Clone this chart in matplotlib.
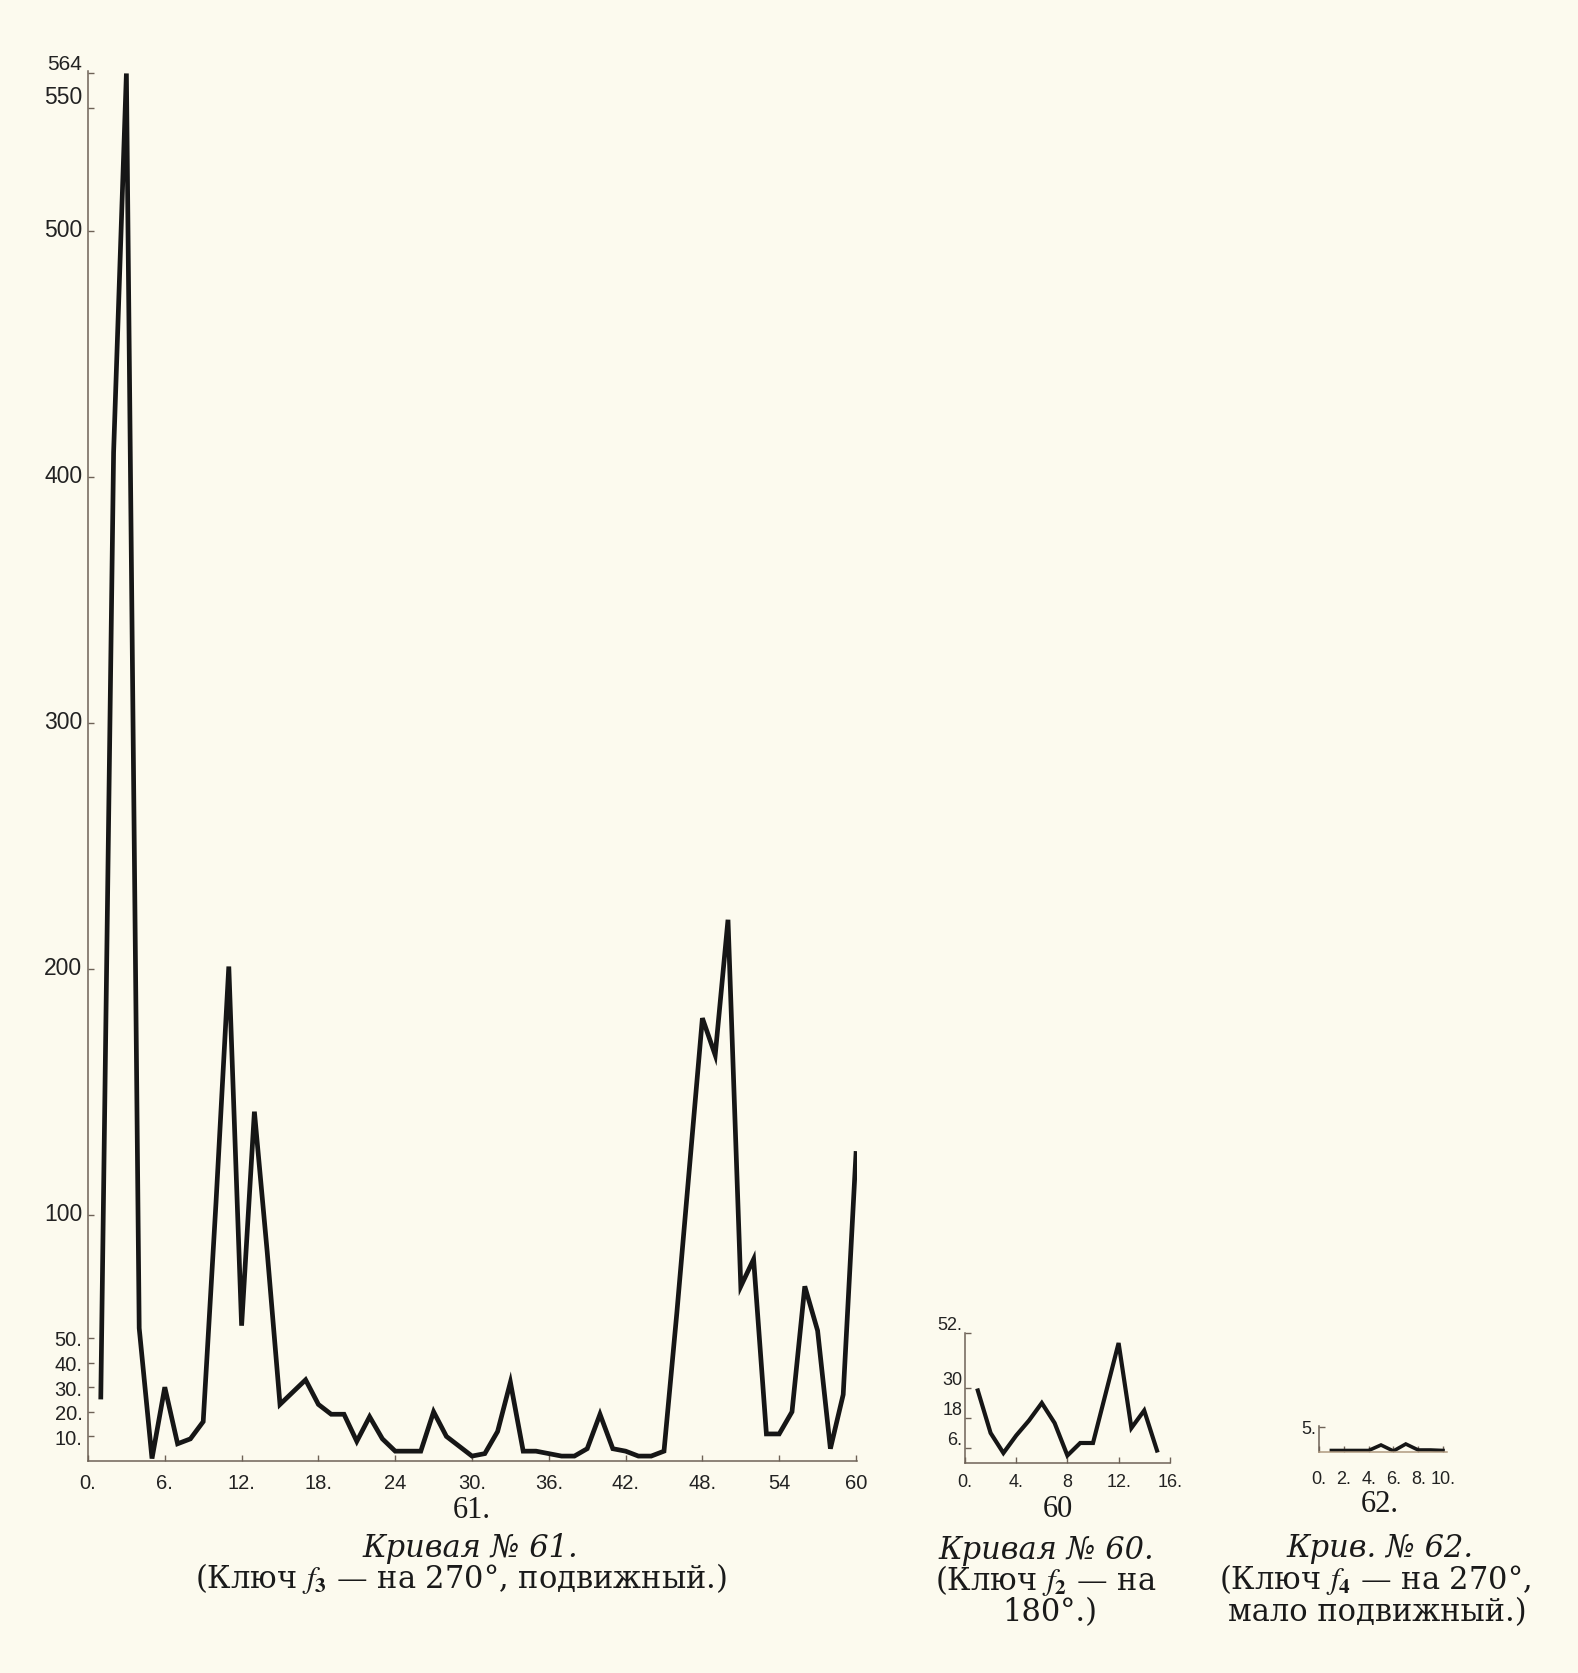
import matplotlib.pyplot as plt
from matplotlib.transforms import ScaledTranslation

# шрифты: подписи серифом, цифры на осях - гротеском
plt.rcParams['font.family'] = ['DejaVu Serif', 'Liberation Serif']
plt.rcParams['mathtext.fontset'] = 'stix'

# ---- данные ----
# Кривая № 61
x61 = list(range(1, 61))
y61 = [26, 410, 564, 54, 1, 30, 7, 9, 16, 105,
       201, 55, 142, 85, 23, 28, 33, 23, 19, 19,
       8, 18, 9, 4, 4, 4, 20, 10, 6, 2,
       3, 12, 32, 4, 4, 3, 2, 2, 5, 19,
       5, 4, 2, 2, 4, 60, 120, 180, 165, 220,
       71, 82, 11, 11, 20, 71, 53, 5, 27, 125]
yticks61 = [10, 20, 30, 40, 50, 100, 200, 300, 400, 500, 550, 564]
ylabels61 = ['10.', '20.', '30.', '40.', '50.', '100', '200', '300', '400', '500', '550', '564']
xticks61 = [0, 6, 12, 18, 24, 30, 36, 42, 48, 54, 60]
xlabels61 = ['0.', '6.', '12.', '18.', '24', '30.', '36.', '42.', '48.', '54', '60']

# Кривая № 60
x60 = list(range(1, 16))
y60 = [29, 12, 4, 11, 17, 24, 16, 3, 8, 8, 28, 48, 14, 21, 5]
yticks60 = [6, 18, 30, 52]
ylabels60 = ['6.', '18', '30', '52.']
xticks60 = [0, 4, 8, 12, 16]
xlabels60 = ['0.', '4.', '8', '12.', '16.']

# Кривая № 62
x62 = list(range(1, 11))
y62 = [0.3, 0.3, 0.3, 0.3, 1.4, 0.2, 1.6, 0.4, 0.4, 0.3]
yticks62 = [5]
ylabels62 = ['5.']
xticks62 = [0, 2, 4, 6, 8, 10]
xlabels62 = ['0.', '2.', '4.', '6.', '8.', '10.']

W, H = 1578, 1674
paper = '#fcfaee'
ink = '#161616'
axis_c = '#6e6257'

fig = plt.figure(figsize=(W / 100, H / 100), dpi=100, facecolor=paper)


def box(left, bottom_px, width, height):
    # прямоугольник осей в пикселях (сверху вниз) -> доли фигуры
    return [left / W, 1 - bottom_px / H, width / W, height / H]


def style_axes(ax, size, pad_y, pad_x):
    ax.set_facecolor('none')
    for s in ['top', 'right']:
        ax.spines[s].set_visible(False)
    for s in ['left', 'bottom']:
        ax.spines[s].set_color(axis_c)
        ax.spines[s].set_linewidth(1.1)
    ax.tick_params(axis='both', direction='in', length=4, width=1, color=axis_c,
                   labelsize=size, labelcolor='#222222', labelfontfamily='Liberation Sans')
    ax.tick_params(axis='y', pad=pad_y)
    ax.tick_params(axis='x', pad=pad_x)


# главный график
ax1 = fig.add_axes(box(88, 1462, 60.1 * 12.8, 1390))
ax1.plot(x61, y61, color=ink, lw=3.4, solid_joinstyle='miter')
ax1.set_xlim(0, 60.1)
ax1.set_ylim(0, 565)
ax1.set_yticks(yticks61, ylabels61)
ax1.set_xticks(xticks61, xlabels61)
style_axes(ax1, 14.5, 4, 9)
# крупные деления подписаны чуть выше и крупнее
up = ScaledTranslation(0, 4 / 100, fig.dpi_scale_trans)
for v, lab in zip(yticks61, ax1.get_yticklabels()):
    if v >= 100:
        lab.set_fontsize(16.5 if v < 564 else 15)
    if v >= 550:
        lab.set_va('bottom')
    elif v >= 100:
        lab.set_transform(lab.get_transform() + up)

# кривая 60
ax2 = fig.add_axes(box(965, 1464, 16 * 12.8, 130))
ax2.plot(x60, y60, color=ink, lw=3.0, solid_joinstyle='miter')
ax2.set_xlim(0, 16)
ax2.set_ylim(0, 52)
ax2.set_yticks(yticks60, ylabels60)
ax2.set_xticks(xticks60, xlabels60)
style_axes(ax2, 13, 2, 7)
for lab in ax2.get_yticklabels():
    lab.set_va('bottom')

# кривая 62
ax3 = fig.add_axes(box(1319, 1453, 10.3 * 12.4, 26.5))
ax3.plot(x62, y62, color=ink, lw=2.6, solid_joinstyle='miter')
ax3.set_xlim(0, 10.3)
ax3.set_ylim(0, 5.3)
ax3.set_yticks(yticks62, ylabels62)
ax3.set_xticks(xticks62, xlabels62)
style_axes(ax3, 13, 2, 13)
ax3.spines['bottom'].set_color('#b09a80')


def put(px, py, s, size, italic=False, family=None):
    fig.text(px / W, 1 - py / H, s, ha='center', va='center', fontsize=size,
             style='italic' if italic else 'normal', color='#1a1a1a',
             family=family)


num_font = ['Liberation Serif', 'DejaVu Serif']
put(472, 1511, '61.', 22, family=num_font)
put(470, 1549, 'Кривая № 61.', 22, italic=True)
put(461, 1579, r'(Ключ $f_{\mathbf{3}}$ — на 270°, подвижный.)', 22)

put(1058, 1510, '60', 22, family=num_font)
put(1046, 1551, 'Кривая № 60.', 22, italic=True)
put(1046, 1581, r'(Ключ $f_{\mathbf{2}}$ — на', 22)
put(1050, 1613, '180°.)', 22)

put(1380, 1505, '62.', 22, family=num_font)
put(1380, 1549, 'Крив. № 62.', 22, italic=True)
put(1375, 1580, r'(Ключ $f_{\mathbf{4}}$ — на 270°,', 22)
put(1377, 1613, 'мало подвижный.)', 22)

fig.savefig('out.png', dpi=100, facecolor=paper)
